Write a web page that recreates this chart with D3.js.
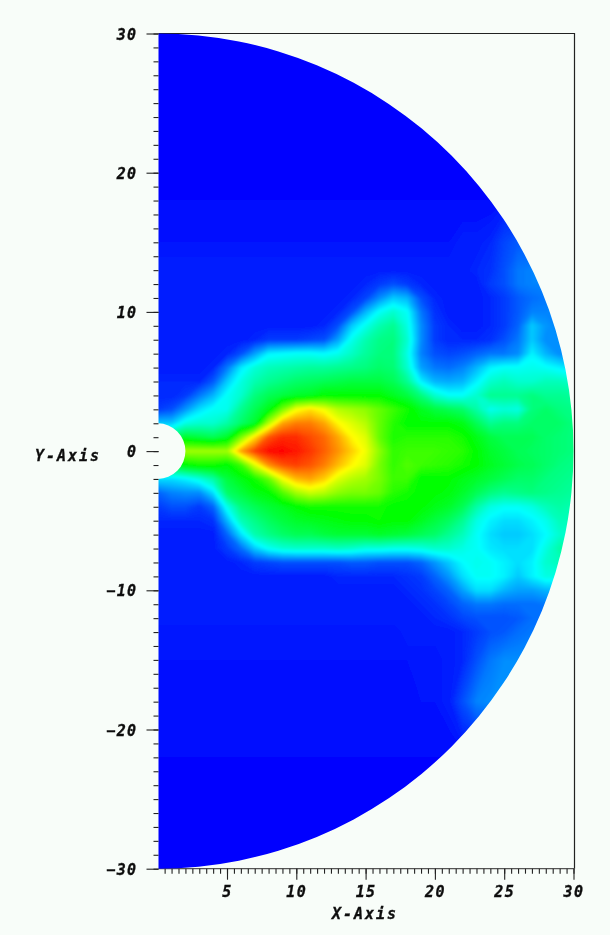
<!DOCTYPE html>
<html>
<head>
<meta charset="utf-8">
<script src="https://cdn.jsdelivr.net/npm/d3@7"></script>
<style>
html, body { margin: 0; padding: 0; background: #f8fdf9; }
svg { display: block; }
.lbl text, text.lbl { font-family: "DejaVu Sans Mono", monospace; font-weight: bold; font-style: italic; font-size: 15px; fill: #111; stroke: #111; stroke-width: 0.35px; letter-spacing: 1.4px; }
text.lbl { letter-spacing: 2px; }
</style>
</head>
<body>
<div id="chart"></div>
<script>
const xTicks = [5, 10, 15, 20, 25, 30];
const yTicks = [-30, -20, -10, 0, 10, 20, 30];
const xTitle = "X-Axis";
const yTitle = "Y-Axis";
const innerRadius = 2;
const outerRadius = 30;

// sample positions of the field, rows are denser around the disc
const gridX = [0,1,2,3,4,5,6,7,8,9,10,11,12,13,14,15,16,17,18,19,20,21,22,23,24,25,26,27,28,29,30];
const gridY = [30,26,22,18,15,13,12,11,10,9,8,7,6,5,4,3,2,1,0,-1,-2,-3,-4,-5,-6,-7,-8,-9,-10,-11,-12,-13,-15,-18,-22,-26,-30];

// field values, 0 = blue ... 100 = red
const field = [
[0,0,0,0,0,0,0,0,0,0,0,0,0,0,0,0,0,0,0,0,0,0,0,0,0,0,0,0,0,0,0],
[0,0,0,0,0,0,0,0,0,0,0,0,0,0,0,0,0,0,0,0,0,0,0,0,0,0,0,0,0,0,0],
[0,0,0,0,0,0,0,0,0,0,0,0,0,0,0,0,0,0,0,0,0,0,0,0,0,0,0,0,0,0,0],
[1,1,1,1,1,1,1,1,1,1,1,1,1,1,1,1,1,1,1,1,1,1,1,1,1,2,2,2,2,2,2],
[2,2,2,2,2,2,2,2,2,2,2,2,2,2,2,2,2,2,2,2,2,2,3,3,4,7,9,9,9,9,9],
[3,3,3,3,3,3,3,3,3,3,3,3,3,3,3,3,3,3,3,3,3,3,3,4,5,8,12,13,13,13,13],
[3,3,3,3,3,3,3,3,3,3,3,3,3,3,3,4,6,8,6,4,3,3,3,3,6,8,12,13,13,13,13],
[3,3,3,3,3,3,3,3,3,3,3,3,3,3,4,7,14,20,18,8,4,3,3,3,4,6,9,11,12,13,13],
[3,3,3,3,3,3,3,3,3,3,3,3,3,4,8,18,26,30,26,12,5,3,3,3,4,6,9,13,13,13,13],
[3,3,3,3,3,3,3,3,3,3,3,3,4,8,20,27,33,36,28,14,6,4,3,3,4,6,10,20,15,13,13],
[3,3,3,3,3,3,3,4,6,6,6,7,8,16,27,33,37,38,30,14,6,4,4,4,5,8,12,20,14,14,14],
[3,3,3,3,3,4,8,16,24,25,26,26,25,27,31,35,38,38,28,13,8,7,8,10,12,12,14,24,18,14,14],
[3,3,3,3,4,12,23,29,32,33,34,35,35,36,37,38,40,39,30,16,12,11,13,18,24,26,26,27,26,24,22],
[4,4,4,4,9,20,28,33,36,38,40,41,42,43,44,44,44,42,36,24,18,17,18,24,30,32,30,30,32,32,30],
[4,4,6,12,18,26,30,38,42,44,46,47,50,50,50,50,50,47,44,38,30,26,26,30,36,36,36,38,36,36,35],
[6,8,15,22,26,27,36,42,48,62,74,78,74,68,66,64,60,56,52,47,44,42,40,34,27,29,28,38,40,38,37],
[20,20,28,30,30,34,40,46,68,84,88,88,84,76,72,68,60,54,50,50,50,50,48,42,36,38,38,40,40,40,38],
[40,40,46,44,42,46,62,78,92,96,96,93,90,84,76,72,60,53,54,54,54,54,52,48,44,42,42,42,40,39,38],
[60,60,66,66,66,66,84,94,99,100,98,95,91,86,80,74,64,55,56,56,56,55,54,50,46,44,42,41,40,39,38],
[45,45,50,52,52,50,56,72,86,92,94,92,88,82,76,72,62,55,58,56,55,54,52,50,47,45,43,42,40,38,37],
[22,22,24,28,34,44,48,52,60,74,82,84,80,72,68,66,62,56,56,50,50,50,48,46,44,42,40,40,38,37,36],
[10,13,14,14,22,40,44,48,50,58,66,70,68,64,62,62,60,54,52,50,50,49,46,42,38,36,37,38,37,36,35],
[6,8,8,6,10,27,38,42,45,47,50,52,52,52,52,52,52,50,50,50,48,46,42,34,28,26,26,28,32,34,33],
[4,4,4,4,5,18,32,37,41,44,46,47,48,49,50,50,51,50,50,47,44,41,36,28,24,22,22,24,27,32,32],
[3,3,3,3,3,10,22,33,37,40,42,42,44,45,45,45,46,45,44,42,40,36,32,26,22,20,20,22,25,30,30],
[3,3,3,3,3,6,11,20,26,29,30,30,30,31,30,28,28,27,27,28,30,30,28,26,23,22,22,22,28,34,34],
[3,3,3,3,3,3,4,6,7,8,8,8,8,8,9,9,8,8,8,10,15,20,25,27,26,24,22,24,30,32,32],
[3,3,3,3,3,3,3,3,3,3,3,3,3,4,4,4,4,4,5,6,10,15,22,26,26,24,20,24,28,28,28],
[3,3,3,3,3,3,3,3,3,3,3,3,3,3,3,3,3,3,4,5,7,10,16,22,22,18,16,16,18,18,18],
[3,3,3,3,3,3,3,3,3,3,3,3,3,3,3,3,3,3,3,4,5,7,10,12,12,11,11,11,12,12,12],
[3,3,3,3,3,3,3,3,3,3,3,3,3,3,3,3,3,3,3,3,4,5,7,8,8,8,9,11,11,11,11],
[2,2,2,2,2,2,2,2,2,2,2,2,2,2,2,2,2,2,3,3,3,3,4,6,8,9,11,12,12,12,12],
[2,2,2,2,2,2,2,2,2,2,2,2,2,2,2,2,2,2,2,2,2,3,4,8,12,14,14,14,14,14,14],
[1,1,1,1,1,1,1,1,1,1,1,1,1,1,1,1,1,1,1,2,2,3,8,13,14,14,14,14,14,14,14],
[1,1,1,1,1,1,1,1,1,1,1,1,1,1,1,1,1,1,1,1,1,1,1,1,1,1,1,1,1,1,1],
[0,0,0,0,0,0,0,0,0,0,0,0,0,0,0,0,0,0,0,0,0,0,0,0,0,0,0,0,0,0,0],
[0,0,0,0,0,0,0,0,0,0,0,0,0,0,0,0,0,0,0,0,0,0,0,0,0,0,0,0,0,0,0]
];

const width = 610, height = 935;
const plot = {left: 158.5, right: 574.5, top: 33.5, bottom: 868.7};

const xScale = d3.scaleLinear().domain([5, 30]).range([227, 573.5]);
const yScale = d3.scaleLinear().domain([30, -30]).range([33.5, 868.7]);
const colScale = d3.scaleLinear().domain(d3.range(gridX.length)).range(gridX);
const rowScale = d3.scaleLinear().domain(d3.range(gridY.length)).range(gridY);
const color = d3.scaleLinear()
	.domain([0, 25, 50, 75, 100])
	.range(["#0000ff", "#00ffff", "#00ff00", "#ffff00", "#ff0000"]);

const svg = d3.select("#chart").append("svg")
	.attr("width", width)
	.attr("height", height);

const defs = svg.append("defs");
defs.append("filter").attr("id", "soft")
	.append("feGaussianBlur").attr("stdDeviation", 1.2);
defs.append("filter").attr("id", "softText")
	.append("feGaussianBlur").attr("stdDeviation", 0.35);

// half annulus, drawn in x pixels and stretched to the y scale
const rx = xScale(outerRadius) - xScale(0);
const ry = yScale(0) - yScale(outerRadius);
const arc = d3.arc()
	.innerRadius(xScale(innerRadius) - xScale(0))
	.outerRadius(rx)
	.startAngle(0)
	.endAngle(Math.PI);
defs.append("clipPath").attr("id", "disc")
	.append("path")
	.attr("d", arc())
	.attr("transform", "translate(" + xScale(0) + "," + yScale(0) + ") scale(1," + (ry / rx) + ")");
defs.append("clipPath").attr("id", "plotArea")
	.append("rect")
	.attr("x", plot.left)
	.attr("y", plot.top - 1)
	.attr("width", plot.right - plot.left)
	.attr("height", plot.bottom - plot.top + 2);

// frame
svg.append("path")
	.attr("d", d3.line()([[plot.left, plot.top], [plot.right, plot.top], [plot.right, plot.bottom]]))
	.attr("fill", "none")
	.attr("stroke", "#222")
	.attr("stroke-width", 1.2);
svg.append("line")
	.attr("x1", plot.left).attr("x2", plot.right)
	.attr("y1", plot.bottom).attr("y2", plot.bottom)
	.attr("stroke", "#555")
	.attr("stroke-width", 1.2);

// field, one filled contour per level
const values = [];
field.forEach(row => row.forEach(v => values.push(v)));
const contours = d3.contours()
	.size([gridX.length, gridY.length])
	.thresholds(d3.range(0, 100, 0.5))(values);

const toPlot = d3.geoTransform({
	point: function (x, y) {
		this.stream.point(xScale(colScale(x - 0.5)), yScale(rowScale(y - 0.5)));
	}
});
const path = d3.geoPath(toPlot);

svg.append("g")
	.attr("clip-path", "url(#plotArea)")
	.append("g")
	.attr("clip-path", "url(#disc)")
	.append("g")
	.attr("filter", "url(#soft)")
	.selectAll("path")
	.data(contours)
	.enter()
	.append("path")
	.attr("d", path)
	.attr("fill", d => color(d.value));

// axes
function styleAxis(g) {
	g.select(".domain").remove();
	g.selectAll("line").attr("stroke", "#222").attr("stroke-width", 1.1);
}

svg.append("g")
	.attr("transform", "translate(" + plot.left + ",0)")
	.call(d3.axisLeft(yScale).tickValues(d3.range(-30, 31, 1)).tickSize(5).tickFormat(""))
	.call(styleAxis);
const yAxis = svg.append("g")
	.attr("class", "lbl")
	.attr("transform", "translate(" + plot.left + ",0)")
	.call(d3.axisLeft(yScale).tickValues(yTicks).tickSize(12).tickPadding(9).tickFormat(d => String(d).replace("-", "\u2212")))
	.call(styleAxis);
yAxis.selectAll("text").attr("font-family", null).attr("font-size", null).attr("dy", "0.37em").attr("filter", "url(#softText)");

svg.append("g")
	.attr("transform", "translate(0," + plot.bottom + ")")
	.call(d3.axisBottom(xScale).tickValues(d3.range(0.5, 30.5, 0.5)).tickSize(5).tickFormat(""))
	.call(styleAxis);
const xAxis = svg.append("g")
	.attr("class", "lbl")
	.attr("transform", "translate(0," + plot.bottom + ")")
	.call(d3.axisBottom(xScale).tickValues(xTicks).tickSize(11).tickPadding(7))
	.call(styleAxis);
xAxis.selectAll("text").attr("font-family", null).attr("font-size", null).attr("filter", "url(#softText)");

// axis titles
svg.append("text")
	.attr("class", "lbl")
	.attr("x", 365)
	.attr("y", 919)
	.attr("text-anchor", "middle")
	.attr("filter", "url(#softText)")
	.text(xTitle);
svg.append("text")
	.attr("class", "lbl")
	.attr("x", 68)
	.attr("y", 461)
	.attr("text-anchor", "middle")
	.attr("filter", "url(#softText)")
	.text(yTitle);
</script>
</body>
</html>
